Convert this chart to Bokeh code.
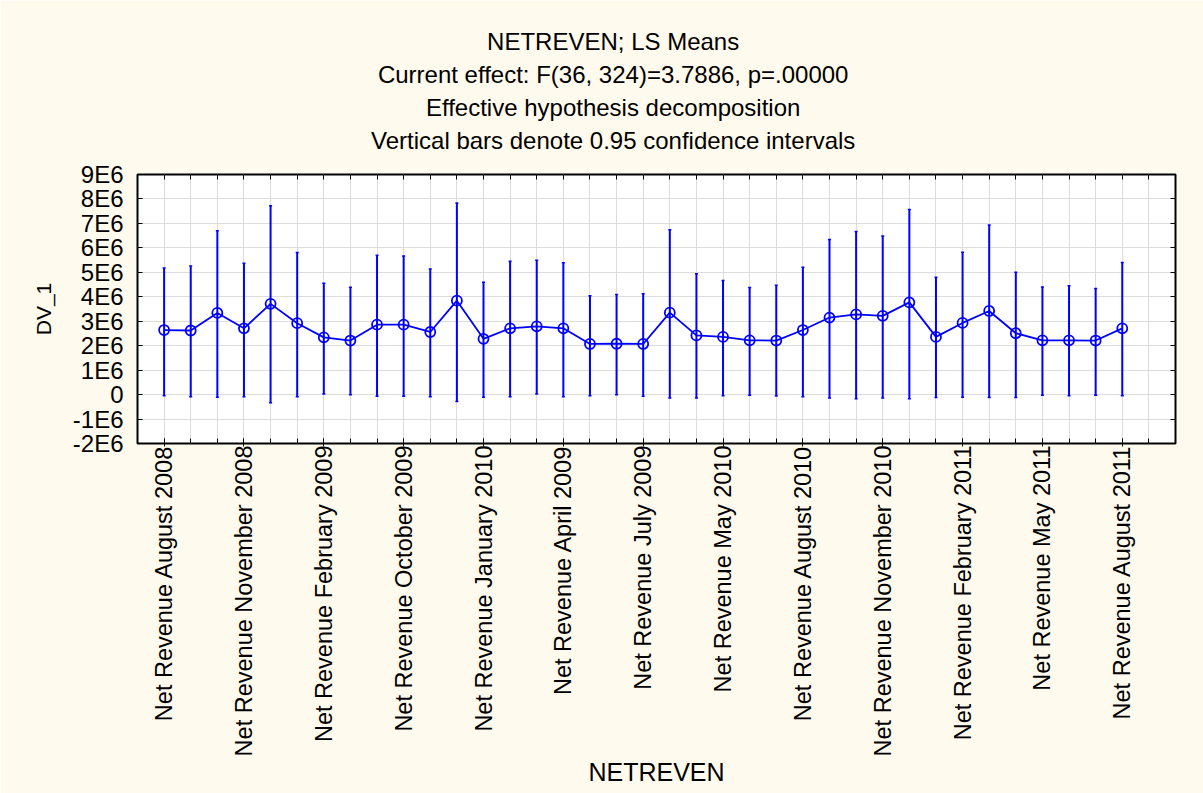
import math
from bokeh.plotting import figure
from bokeh.models import (Range1d, FixedTicker, LinearAxis, Title, ColumnDataSource, Whisker, TeeHead)
from bokeh.embed import file_html
from bokeh.resources import INLINE

# ---------------- data ----------------
positions = list(range(1, 38))
means = [2.64e6, 2.62e6, 3.34e6, 2.71e6, 3.71e6, 2.92e6, 2.34e6, 2.21e6, 2.86e6, 2.86e6,
         2.56e6, 3.84e6, 2.28e6, 2.71e6, 2.79e6, 2.71e6, 2.07e6, 2.08e6, 2.07e6, 3.35e6,
         2.42e6, 2.36e6, 2.22e6, 2.21e6, 2.64e6, 3.15e6, 3.28e6, 3.22e6, 3.77e6, 2.36e6,
         2.93e6, 3.42e6, 2.51e6, 2.22e6, 2.22e6, 2.21e6, 2.71e6]
upper = [5.18e6, 5.26e6, 6.70e6, 5.37e6, 7.72e6, 5.81e6, 4.55e6, 4.39e6, 5.70e6, 5.67e6,
         5.14e6, 7.83e6, 4.59e6, 5.45e6, 5.49e6, 5.39e6, 4.04e6, 4.09e6, 4.12e6, 6.74e6,
         4.94e6, 4.67e6, 4.38e6, 4.47e6, 5.21e6, 6.34e6, 6.67e6, 6.49e6, 7.57e6, 4.80e6,
         5.82e6, 6.94e6, 5.00e6, 4.40e6, 4.45e6, 4.34e6, 5.40e6]
lower = [-0.05e6, -0.09e6, -0.11e6, -0.09e6, -0.33e6, -0.09e6, 0.02e6, -0.01e6, -0.07e6, -0.07e6,
         -0.09e6, -0.28e6, -0.11e6, -0.09e6, 0.02e6, -0.09e6, -0.05e6, -0.01e6, -0.07e6, -0.14e6,
         -0.14e6, -0.05e6, -0.03e6, -0.06e6, -0.09e6, -0.14e6, -0.17e6, -0.14e6, -0.17e6, -0.12e6,
         -0.11e6, -0.12e6, -0.12e6, -0.03e6, -0.05e6, -0.03e6, -0.05e6]

label_positions = [1, 4, 7, 10, 13, 16, 19, 22, 25, 28, 31, 34, 37]
label_texts = ["Net Revenue August 2008", "Net Revenue November 2008", "Net Revenue February 2009",
               "Net Revenue October 2009", "Net Revenue January 2010", "Net Revenue April 2009",
               "Net Revenue July 2009", "Net Revenue May 2010", "Net Revenue August 2010",
               "Net Revenue November 2010", "Net Revenue February 2011", "Net Revenue May 2011",
               "Net Revenue August 2011"]

y_ticks = [-2e6, -1e6, 0, 1e6, 2e6, 3e6, 4e6, 5e6, 6e6, 7e6, 8e6, 9e6]
y_tick_labels = ["-2E6", "-1E6", "0", "1E6", "2E6", "3E6", "4E6", "5E6", "6E6", "7E6", "8E6", "9E6"]

title_lines = ["NETREVEN; LS Means",
               "Current effect: F(36, 324)=3.7886, p=.00000",
               "Effective hypothesis decomposition",
               "Vertical bars denote 0.95 confidence intervals"]
x_title = "NETREVEN"
y_title = "DV_1"

FONT = "Liberation Sans"
CREAM = "#FFFAEE"
BLUE = "#0000FF"
GRID = "#DCDCDC"
PAD = "\u00a0" * 13   # shifts the centred title lines left of the frame centre

# ---------------- figure ----------------
p = figure(width=1203, height=793, output_backend="svg", toolbar_location=None,
           x_range=Range1d(0, 39), y_range=Range1d(-2e6, 9e6),
           min_border_left=137, min_border_right=28, min_border_top=174, min_border_bottom=350,
           background_fill_color="white", border_fill_color=CREAM,
           outline_line_color="black", outline_line_width=2)
p.title.visible = False

all_x = list(range(0, 40))

# bottom axis
xa = p.xaxis[0]
xa.ticker = FixedTicker(ticks=label_positions, minor_ticks=all_x)
xa.major_label_overrides = {k: v for k, v in zip(label_positions, label_texts)}
xa.major_label_orientation = math.pi / 2
xa.major_label_text_font = FONT
xa.major_label_text_font_size = "23.5px"
xa.major_label_text_color = "black"
xa.major_tick_in = 5
xa.major_tick_out = 3
xa.minor_tick_in = 5
xa.minor_tick_out = 0
xa.major_label_standoff = -1
xa.axis_line_color = None
xa.major_tick_line_color = "black"
xa.minor_tick_line_color = "black"
xa.axis_label = x_title
xa.axis_label_text_font = FONT
xa.axis_label_text_font_size = "25px"
xa.axis_label_text_font_style = "normal"
xa.axis_label_text_color = "black"
xa.axis_label_standoff = -1

# left axis
ya = p.yaxis[0]
ya.ticker = FixedTicker(ticks=y_ticks, minor_ticks=[])
ya.major_label_overrides = {k: v for k, v in zip(y_ticks, y_tick_labels)}
ya.major_label_text_font = FONT
ya.major_label_text_font_size = "24px"
ya.major_label_text_color = "black"
ya.major_tick_in = 5
ya.major_tick_out = 0
ya.minor_tick_line_color = None
ya.major_label_standoff = 14
ya.axis_line_color = None
ya.axis_label = y_title
ya.axis_label_text_font = FONT
ya.axis_label_text_font_size = "21px"
ya.axis_label_text_font_style = "normal"
ya.axis_label_text_color = "black"
ya.axis_label_standoff = 15

# top and right axes (ticks only)
top = LinearAxis(ticker=FixedTicker(ticks=all_x, minor_ticks=[]), major_label_text_font_size="0px",
                 major_tick_in=5, major_tick_out=0, axis_line_color=None,
                 minor_tick_line_color=None, major_label_standoff=0)
top.major_label_overrides = {k: "" for k in all_x}
p.add_layout(top, "above")
right = LinearAxis(ticker=FixedTicker(ticks=y_ticks, minor_ticks=[]), major_label_text_font_size="0px",
                   major_tick_in=5, major_tick_out=0, axis_line_color=None,
                   minor_tick_line_color=None, major_label_standoff=0)
right.major_label_overrides = {k: "" for k in y_ticks}
p.add_layout(right, "right")

# spacer between the frame and the title block
p.add_layout(Title(text="\u00a0", text_font_size="1px", standoff=16), "above")
# titles, stacked upward
for t in reversed(title_lines):
    p.add_layout(Title(text=t + PAD, align="center", standoff=4,
                       text_font=FONT, text_font_size="24px", text_font_style="normal",
                       text_color="black"), "above")

# grids
p.xgrid.ticker = FixedTicker(ticks=all_x)
p.ygrid.ticker = FixedTicker(ticks=y_ticks)
p.xgrid.grid_line_color = GRID
p.ygrid.grid_line_color = GRID
p.xgrid.grid_line_width = 1
p.ygrid.grid_line_width = 1

# data
src = ColumnDataSource(dict(x=positions, m=means, u=upper, l=lower))
p.add_layout(Whisker(base="x", upper="u", lower="l", source=src, dimension="height",
                     line_color=BLUE, line_width=2,
                     upper_head=TeeHead(size=3, line_color=BLUE, line_width=1.5),
                     lower_head=TeeHead(size=3, line_color=BLUE, line_width=1.5)))
p.line(x="x", y="m", source=src, line_color=BLUE, line_width=1.8)
p.scatter(x="x", y="m", source=src, marker="circle", size=10, fill_color=None,
          line_color=BLUE, line_width=1.8)

open("out.html", "w").write(file_html(p, INLINE))
